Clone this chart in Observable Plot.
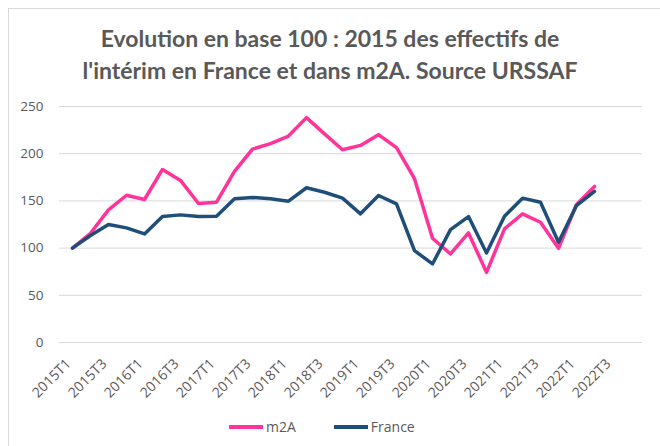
<!DOCTYPE html>
<html><head><meta charset="utf-8">
<script src="https://cdn.jsdelivr.net/npm/d3@7"></script>
<script src="https://cdn.jsdelivr.net/npm/@observablehq/plot@0.6"></script>
<style>
body{margin:0;background:#fff;}
#wrap{position:relative;width:660px;height:446px;overflow:hidden;font-family:"Open Sans",sans-serif;background:#fff;}
#frame{position:absolute;left:8px;top:8px;width:700px;height:500px;border-top:1px solid #d9d9d9;border-left:1px solid #d9d9d9;}
#title{position:absolute;top:22px;left:0;width:660px;text-align:center;font-weight:bold;font-size:23px;font-family:Lato,sans-serif;color:#595959;line-height:32px;}
#chart{position:absolute;left:0;top:0;}
#legend{position:absolute;top:417px;left:229px;display:flex;align-items:center;font-size:14px;color:#595959;font-family:"Open Sans",sans-serif;}
.sw{display:inline-block;width:34px;height:4px;margin-right:3px;}
.it{display:flex;align-items:center;margin-right:38px;}
</style></head>
<body>
<div id="wrap">
<div id="frame"></div>
<div id="chart"></div>
<div id="title">Evolution en base 100 : 2015 des effectifs de<br>l'intérim en France et dans m2A. Source URSSAF</div>
<div id="legend"></div>
</div>
<script>
const quarters = ["2015T1","2015T2","2015T3","2015T4","2016T1","2016T2","2016T3","2016T4",
"2017T1","2017T2","2017T3","2017T4","2018T1","2018T2","2018T3","2018T4",
"2019T1","2019T2","2019T3","2019T4","2020T1","2020T2","2020T3","2020T4",
"2021T1","2021T2","2021T3","2021T4","2022T1","2022T2","2022T3","2022T4"];
const xTicks = ["2015T1","2015T3","2016T1","2016T3","2017T1","2017T3","2018T1","2018T3",
"2019T1","2019T3","2020T1","2020T3","2021T1","2021T3","2022T1","2022T3"];
const yTicks = [0,50,100,150,200,250];
const seriesNames = ["m2A","France"];
const seriesColors = ["#FF3399","#1F4E79"];
const m2A = [100,115.7,140.5,156,151.5,183.3,171.7,147.2,148.6,181.2,204.9,210.6,218.7,238.2,221,204.2,
208.8,220.2,206.4,173.5,110.4,93.8,116.1,74.3,120.4,136.3,127.4,99.8,146.2,165.3];
const france = [100,113.3,125,121.4,115,133.4,135.2,133.4,133.8,152.2,153.6,152.2,149.7,163.9,159.2,152.9,
136.3,155.7,146.9,97.3,83.2,119.6,133.4,94.9,133.8,152.9,148.6,106.2,145.1,160];

const rows = [];
m2A.forEach((v,i)=>rows.push({q:quarters[i],v,s:"m2A"}));
france.forEach((v,i)=>rows.push({q:quarters[i],v,s:"France"}));

const chart = Plot.plot({
  width:660, height:446,
  marginTop:106, marginBottom:104, marginLeft:59, marginRight:18,
  style:{fontFamily:"'Open Sans',sans-serif", fontSize:"13px", color:"#595959", background:"transparent"},
  x:{type:"point", domain:quarters, padding:0.5, label:null},
  y:{domain:[0,250], label:null},
  color:{domain:seriesNames, range:seriesColors},
  marks:[
    Plot.gridY(yTicks,{stroke:"#d9d9d9", strokeOpacity:1, strokeWidth:1}),
    Plot.axisY(yTicks,{tickSize:0, tickPadding:16, label:null, fontSize:13.5}),
    Plot.axisX(xTicks,{tickSize:0, tickRotate:-45, tickPadding:19, dx:-4, label:null, fontSize:14}),
    Plot.lineY(rows,{x:"q", y:"v", z:"s", stroke:"s", strokeWidth:3.5, strokeLinejoin:"round", strokeLinecap:"round"})
  ]
});
document.getElementById("chart").appendChild(chart);

const lg = document.getElementById("legend");
seriesNames.forEach((n,i)=>{
  const it = document.createElement("div"); it.className="it";
  const sw = document.createElement("span"); sw.className="sw"; sw.style.background=seriesColors[i];
  const t = document.createElement("span"); t.textContent=n;
  it.appendChild(sw); it.appendChild(t); lg.appendChild(it);
});
</script>
</body></html>
